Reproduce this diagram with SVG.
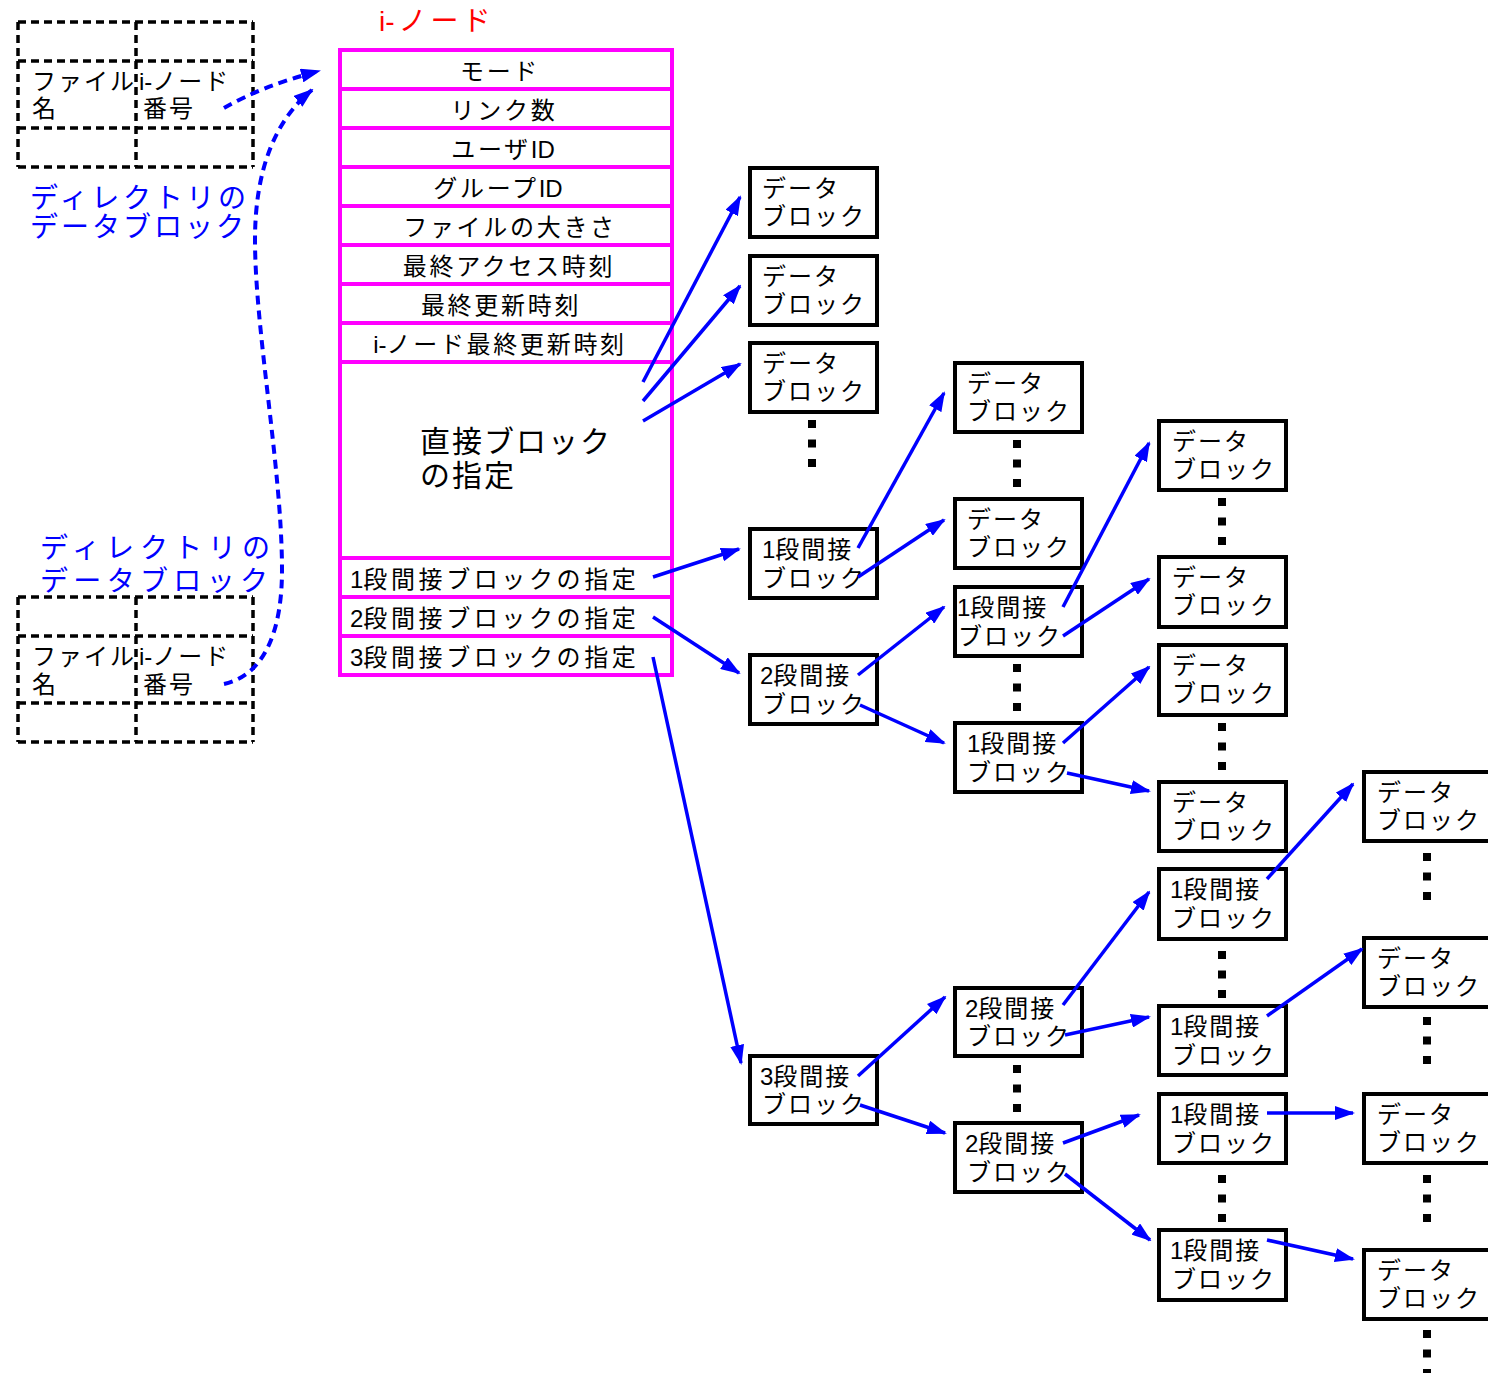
<svg xmlns="http://www.w3.org/2000/svg" width="1488" height="1373" viewBox="0 0 1488 1373">
  <style>
    text { font-family: "Liberation Sans", "Noto Sans CJK JP", sans-serif; fill: #000; }
    .bt { font-size: 24px; letter-spacing: 2px; }
    .tt { font-size: 24px; letter-spacing: 2.7px; text-anchor: middle; }
    .it { font-size: 24px; letter-spacing: 3.6px; }
    .dt { font-size: 24px; letter-spacing: 2px; }
    .lbl { font-size: 28px; fill: #0000ff; }
    .box { fill: #fff; stroke: #000; stroke-width: 4; }
    .row { fill: #fff; stroke: #ff00ff; stroke-width: 4; }
    .cell { fill: none; stroke: #000; stroke-width: 3.5; stroke-dasharray: 8 5; }
    .dot { fill: #000; }
    .tight { letter-spacing: 0; }
    .arr { fill: none; stroke: #0000ff; stroke-width: 3.5; marker-end: url(#ah); }
    .dash { fill: none; stroke: #0000ff; stroke-width: 4; stroke-dasharray: 9 6; marker-end: url(#ah); }
  </style>
  <defs>
    <marker id="ah" viewBox="0 0 20 14" markerWidth="20" markerHeight="14" refX="18" refY="7" orient="auto" markerUnits="userSpaceOnUse">
      <path d="M0,0 L20,7 L0,14 z" fill="#0000ff"/>
    </marker>
    <g id="dots3">
      <rect class="dot" x="0" y="0" width="8" height="8"/>
      <rect class="dot" x="0" y="19.5" width="8" height="8"/>
      <rect class="dot" x="0" y="39" width="8" height="8"/>
    </g>
    <!-- 2 x 3 grid of dashed cells, drawn as single lines -->
    <g id="dirgrid">
      <path class="cell" d="M18,0 H253 M18,39 H253 M18,106 H253 M18,145 H253 M18,0 V145 M136,0 V145 M253,0 V145"/>
    </g>
  </defs>

  <rect width="1488" height="1373" fill="#fff"/>

  <!-- directory data block (upper) -->
  <g id="dir-upper">
    <use href="#dirgrid" y="22"/>
    <text class="dt" x="32" y="90">ファイル</text>
    <text class="dt" x="32" y="117">名</text>
    <text class="dt" x="139" y="90"><tspan class="tight">i-</tspan>ノード</text>
    <text class="dt" x="143" y="117">番号</text>
    <text class="lbl" x="30" y="208" textLength="216" lengthAdjust="spacing">ディレクトリの</text>
    <text class="lbl" x="30" y="237" textLength="214" lengthAdjust="spacing">データブロック</text>
  </g>

  <!-- directory data block (lower) -->
  <g id="dir-lower">
    <text class="lbl" x="40" y="558" textLength="230" lengthAdjust="spacing">ディレクトリの</text>
    <text class="lbl" x="40" y="591" textLength="228" lengthAdjust="spacing">データブロック</text>
    <use href="#dirgrid" y="597"/>
    <text class="dt" x="32" y="665">ファイル</text>
    <text class="dt" x="32" y="693">名</text>
    <text class="dt" x="139" y="665"><tspan class="tight">i-</tspan>ノード</text>
    <text class="dt" x="143" y="693">番号</text>
  </g>

  <!-- i-node table -->
  <g id="inode">
    <text x="379" y="31" font-size="28" letter-spacing="4" style="fill:#ff0000"><tspan class="tight">i</tspan>-ノード</text>
    <rect class="row" x="340" y="50" width="332" height="39"/>
    <rect class="row" x="340" y="89" width="332" height="39"/>
    <rect class="row" x="340" y="128" width="332" height="39"/>
    <rect class="row" x="340" y="167" width="332" height="39"/>
    <rect class="row" x="340" y="206" width="332" height="39"/>
    <rect class="row" x="340" y="245" width="332" height="39"/>
    <rect class="row" x="340" y="284" width="332" height="39"/>
    <rect class="row" x="340" y="323" width="332" height="39"/>
    <rect class="row" x="340" y="362" width="332" height="196"/>
    <rect class="row" x="340" y="558" width="332" height="39"/>
    <rect class="row" x="340" y="597" width="332" height="39"/>
    <rect class="row" x="340" y="636" width="332" height="39"/>
    <text class="tt" x="500" y="80">モード</text>
    <text class="tt" x="504" y="119">リンク数</text>
    <text class="tt" x="503" y="158">ユーザ<tspan class="tight">ID</tspan></text>
    <text class="tt" x="498" y="197">グループ<tspan class="tight">ID</tspan></text>
    <text class="tt" x="510" y="236">ファイルの大きさ</text>
    <text class="tt" x="509" y="275">最終アクセス時刻</text>
    <text class="tt" x="501" y="314">最終更新時刻</text>
    <text class="tt" x="500" y="353" letter-spacing="3.8"><tspan class="tight">i-</tspan>ノード最終更新時刻</text>
    <text x="420" y="452" font-size="30" letter-spacing="2">直接ブロック</text>
    <text x="420" y="486" font-size="30" letter-spacing="2">の指定</text>
    <text class="it" x="350" y="588"><tspan class="tight">1</tspan>段間接ブロックの指定</text>
    <text class="it" x="350" y="627"><tspan class="tight">2</tspan>段間接ブロックの指定</text>
    <text class="it" x="350" y="666"><tspan class="tight">3</tspan>段間接ブロックの指定</text>
  </g>

  <!-- column 1 -->
  <g id="c1-data1"><rect class="box" x="750" y="168" width="127" height="69"/><text class="bt" x="762" y="197">データ</text><text class="bt" x="762" y="225">ブロック</text></g>
  <g id="c1-data2"><rect class="box" x="750" y="256" width="127" height="69"/><text class="bt" x="762" y="285">データ</text><text class="bt" x="762" y="313">ブロック</text></g>
  <g id="c1-data3"><rect class="box" x="750" y="343" width="127" height="69"/><text class="bt" x="762" y="372">データ</text><text class="bt" x="762" y="400">ブロック</text></g>
  <use href="#dots3" x="808" y="420"/>
  <g id="c1-ind1"><rect class="box" x="750" y="529" width="127" height="69"/><text class="bt" x="762" y="558"><tspan class="tight">1</tspan>段間接</text><text class="bt" x="762" y="587">ブロック</text></g>
  <g id="c1-ind2"><rect class="box" x="750" y="655" width="127" height="69"/><text class="bt" x="760" y="684"><tspan class="tight">2</tspan>段間接</text><text class="bt" x="762" y="713">ブロック</text></g>
  <g id="c1-ind3"><rect class="box" x="750" y="1056" width="127" height="68"/><text class="bt" x="760" y="1085"><tspan class="tight">3</tspan>段間接</text><text class="bt" x="762" y="1113">ブロック</text></g>

  <!-- column 2 -->
  <g id="c2-data1"><rect class="box" x="955" y="363" width="127" height="69"/><text class="bt" x="967" y="392">データ</text><text class="bt" x="967" y="420">ブロック</text></g>
  <use href="#dots3" x="1013" y="440"/>
  <g id="c2-data2"><rect class="box" x="955" y="499" width="127" height="69"/><text class="bt" x="967" y="528">データ</text><text class="bt" x="967" y="556">ブロック</text></g>
  <g id="c2-ind1a"><rect class="box" x="955" y="587" width="127" height="69"/><text class="bt" x="957" y="616"><tspan class="tight">1</tspan>段間接</text><text class="bt" x="958" y="645">ブロック</text></g>
  <use href="#dots3" x="1013" y="664"/>
  <g id="c2-ind1b"><rect class="box" x="955" y="723" width="127" height="69"/><text class="bt" x="967" y="752"><tspan class="tight">1</tspan>段間接</text><text class="bt" x="967" y="781">ブロック</text></g>
  <g id="c2-ind2a"><rect class="box" x="955" y="988" width="127" height="68"/><text class="bt" x="965" y="1017"><tspan class="tight">2</tspan>段間接</text><text class="bt" x="967" y="1045">ブロック</text></g>
  <use href="#dots3" x="1013" y="1065"/>
  <g id="c2-ind2b"><rect class="box" x="955" y="1123" width="127" height="69"/><text class="bt" x="965" y="1152"><tspan class="tight">2</tspan>段間接</text><text class="bt" x="967" y="1181">ブロック</text></g>

  <!-- column 3 -->
  <g id="c3-data1"><rect class="box" x="1159" y="421" width="127" height="69"/><text class="bt" x="1172" y="450">データ</text><text class="bt" x="1172" y="478">ブロック</text></g>
  <use href="#dots3" x="1218" y="498"/>
  <g id="c3-data2"><rect class="box" x="1159" y="557" width="127" height="70"/><text class="bt" x="1172" y="586">データ</text><text class="bt" x="1172" y="614">ブロック</text></g>
  <g id="c3-data3"><rect class="box" x="1159" y="645" width="127" height="70"/><text class="bt" x="1172" y="674">データ</text><text class="bt" x="1172" y="702">ブロック</text></g>
  <use href="#dots3" x="1218" y="723"/>
  <g id="c3-data4"><rect class="box" x="1159" y="782" width="127" height="69"/><text class="bt" x="1172" y="811">データ</text><text class="bt" x="1172" y="839">ブロック</text></g>
  <g id="c3-ind1a"><rect class="box" x="1159" y="869" width="127" height="70"/><text class="bt" x="1170" y="898"><tspan class="tight">1</tspan>段間接</text><text class="bt" x="1172" y="927">ブロック</text></g>
  <use href="#dots3" x="1218" y="951"/>
  <g id="c3-ind1b"><rect class="box" x="1159" y="1006" width="127" height="69"/><text class="bt" x="1170" y="1035"><tspan class="tight">1</tspan>段間接</text><text class="bt" x="1172" y="1064">ブロック</text></g>
  <g id="c3-ind1c"><rect class="box" x="1159" y="1094" width="127" height="69"/><text class="bt" x="1170" y="1123"><tspan class="tight">1</tspan>段間接</text><text class="bt" x="1172" y="1152">ブロック</text></g>
  <use href="#dots3" x="1218" y="1175"/>
  <g id="c3-ind1d"><rect class="box" x="1159" y="1230" width="127" height="70"/><text class="bt" x="1170" y="1259"><tspan class="tight">1</tspan>段間接</text><text class="bt" x="1172" y="1288">ブロック</text></g>

  <!-- column 4 -->
  <g id="c4-data1"><rect class="box" x="1364" y="772" width="127" height="69"/><text class="bt" x="1377" y="801">データ</text><text class="bt" x="1377" y="829">ブロック</text></g>
  <use href="#dots3" x="1423" y="853"/>
  <g id="c4-data2"><rect class="box" x="1364" y="938" width="127" height="69"/><text class="bt" x="1377" y="967">データ</text><text class="bt" x="1377" y="995">ブロック</text></g>
  <use href="#dots3" x="1423" y="1017"/>
  <g id="c4-data3"><rect class="box" x="1364" y="1094" width="127" height="69"/><text class="bt" x="1377" y="1123">データ</text><text class="bt" x="1377" y="1151">ブロック</text></g>
  <use href="#dots3" x="1423" y="1175"/>
  <g id="c4-data4"><rect class="box" x="1364" y="1250" width="127" height="69"/><text class="bt" x="1377" y="1279">データ</text><text class="bt" x="1377" y="1307">ブロック</text></g>
  <use href="#dots3" x="1423" y="1330"/>

  <!-- connectors -->
  <g id="connectors">
    <path class="dash" d="M224,108 Q262,86 319,71"/>
    <path class="dash" d="M224,684 C265,675 282,630 282,570 C282,470 255,330 255,240 C255,170 275,120 312,90"/>

    <line class="arr" x1="643" y1="382" x2="740" y2="197"/>
    <line class="arr" x1="643" y1="401" x2="740" y2="286"/>
    <line class="arr" x1="643" y1="421" x2="740" y2="364"/>
    <line class="arr" x1="653" y1="577" x2="739" y2="549"/>
    <line class="arr" x1="653" y1="617" x2="739" y2="673"/>
    <line class="arr" x1="653" y1="657" x2="741" y2="1063"/>

    <line class="arr" x1="858" y1="548" x2="944" y2="393"/>
    <line class="arr" x1="858" y1="577" x2="944" y2="520"/>
    <line class="arr" x1="858" y1="675" x2="944" y2="607"/>
    <line class="arr" x1="860" y1="705" x2="944" y2="743"/>
    <line class="arr" x1="858" y1="1076" x2="945" y2="997"/>
    <line class="arr" x1="860" y1="1105" x2="945" y2="1133"/>

    <line class="arr" x1="1063" y1="607" x2="1149" y2="443"/>
    <line class="arr" x1="1063" y1="636" x2="1149" y2="579"/>
    <line class="arr" x1="1063" y1="743" x2="1149" y2="667"/>
    <line class="arr" x1="1067" y1="773" x2="1149" y2="791"/>
    <line class="arr" x1="1063" y1="1005" x2="1149" y2="892"/>
    <line class="arr" x1="1065" y1="1035" x2="1149" y2="1017"/>
    <line class="arr" x1="1063" y1="1143" x2="1139" y2="1115"/>
    <line class="arr" x1="1065" y1="1174" x2="1150" y2="1240"/>

    <line class="arr" x1="1267" y1="879" x2="1353" y2="784"/>
    <line class="arr" x1="1267" y1="1016" x2="1362" y2="949"/>
    <line class="arr" x1="1267" y1="1113" x2="1353" y2="1113"/>
    <line class="arr" x1="1267" y1="1240" x2="1353" y2="1259"/>
  </g>
</svg>
